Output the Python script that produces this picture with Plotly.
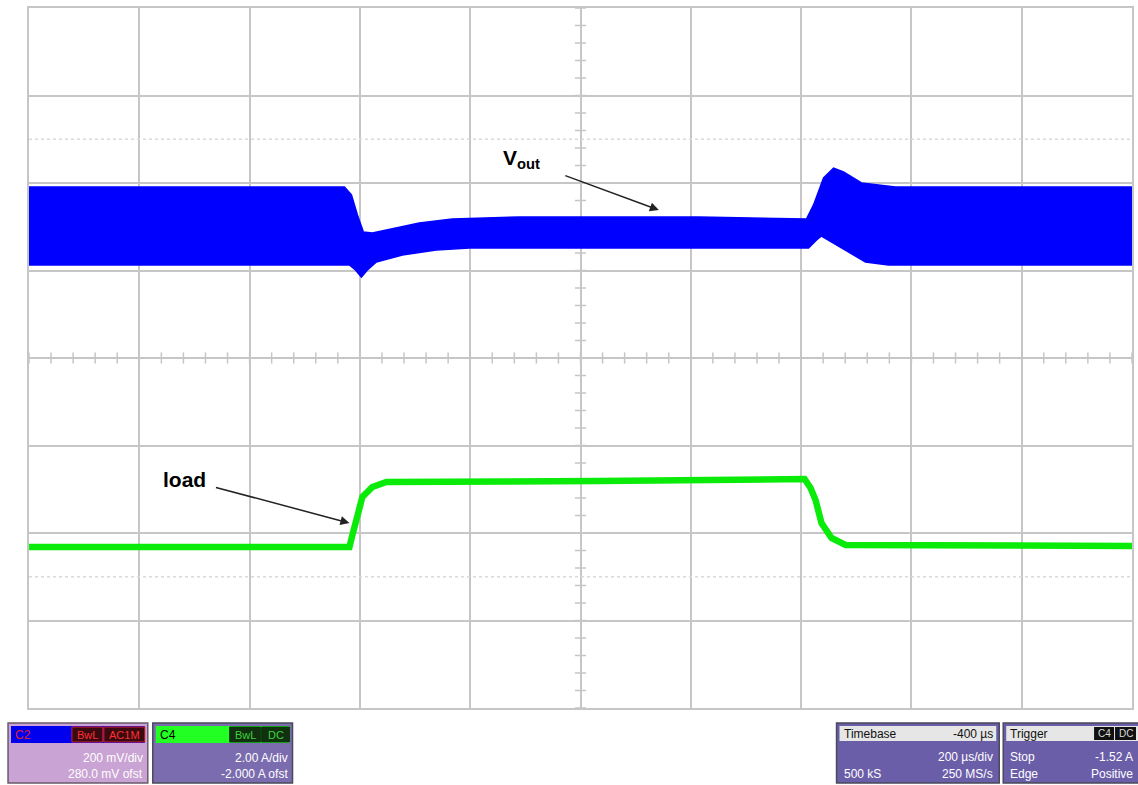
import plotly.graph_objects as go

# ---------------- data (time in µs, vertical position in screen divisions) ----------------
# Vout (C2) band: upper and lower envelope of the switching ripple
vout_upper_t = [-600, -28, -15.4, -4.5, 6.3, 22.6, 107.7, 167.4, 288.7, 614.5, 809.9, 822.6, 840.7, 858.8, 876.9, 909.5, 971, 1400]
vout_upper_d = [1.954, 1.954, 1.863, 1.634, 1.440, 1.429, 1.543, 1.589, 1.611, 1.611, 1.589, 1.749, 2.057, 2.171, 2.126, 2.000, 1.954, 1.954]
vout_lower_t = [-600, -19, -8, 2.7, 13.6, 29.9, 77, 138.4, 198.2, 614.5, 813.5, 828, 837, 849.8, 880.5, 916.7, 958.4, 1400]
vout_lower_d = [1.063, 1.063, 1.006, 0.926, 1.006, 1.097, 1.177, 1.234, 1.257, 1.257, 1.257, 1.349, 1.394, 1.349, 1.234, 1.097, 1.063, 1.063]

# Load current (C4)
load_t = [-600, -19, -13.6, -6.4, 4.5, 22.6, 48, 433.5, 806.3, 817.2, 826.2, 837, 855.2, 880.5, 1400]
load_d = [-2.160, -2.160, -2.023, -1.817, -1.589, -1.474, -1.417, -1.406, -1.383, -1.486, -1.623, -1.886, -2.057, -2.137, -2.149]

# Screen definition
T_LEFT, T_RIGHT, T_DIV = -600, 1400, 200
Y_DIVS = 4
DOTTED_LEVELS = [2.5, -2.5]

# Info panels
c2_lines = ["200 mV/div", "280.0 mV ofst"]
c4_lines = ["2.00 A/div", "-2.000 A ofst"]
tb_header = ("Timebase", "-400 µs")
tb_lines = [("", "200 µs/div"), ("500 kS", "250 MS/s")]
tr_header = "Trigger"
tr_lines = [("Stop", "-1.52 A"), ("Edge", "Positive")]

# ---------------- figure ----------------
W, H = 1138, 785
L, R, T, B = 29, 1134, 8, 708   # plot area in page pixels


def px(x):
    return (x - L) / (R - L)


def py(y):
    return (B - y) / (B - T)


fig = go.Figure()

GRID = "#c6c6c6"

# dotted reference levels
for lv in DOTTED_LEVELS:
    fig.add_trace(go.Scatter(x=[T_LEFT, T_RIGHT], y=[lv, lv], mode="lines",
                             line=dict(color="#dadada", width=1.5, dash="dot"),
                             hoverinfo="skip", showlegend=False))

# center cross minor ticks
n_x = int((T_RIGHT - T_LEFT) / (T_DIV / 5))
tick_x = [T_LEFT + k * T_DIV / 5 for k in range(n_x + 1)]
fig.add_trace(go.Scatter(x=tick_x, y=[0] * len(tick_x), mode="markers",
                         marker=dict(symbol="line-ns", size=8, line=dict(color=GRID, width=1.5)),
                         hoverinfo="skip", showlegend=False, cliponaxis=False))
xc = (T_LEFT + T_RIGHT) / 2
tick_y = [-Y_DIVS + k * 0.2 for k in range(int(2 * Y_DIVS / 0.2) + 1)]
fig.add_trace(go.Scatter(x=[xc] * len(tick_y), y=tick_y, mode="markers",
                         marker=dict(symbol="line-ew", size=8, line=dict(color=GRID, width=1.5)),
                         hoverinfo="skip", showlegend=False, cliponaxis=False))

# Vout band
band_x = vout_upper_t + vout_lower_t[::-1]
band_y = vout_upper_d + vout_lower_d[::-1]
fig.add_trace(go.Scatter(x=band_x, y=band_y, mode="lines", fill="toself",
                         fillcolor="#0000ff", line=dict(color="#0000ff", width=1.5),
                         hoverinfo="skip", showlegend=False))

# Load current
fig.add_trace(go.Scatter(x=load_t, y=load_d, mode="lines",
                         line=dict(color="#0aeb0a", width=6.5),
                         hoverinfo="skip", showlegend=False))

# trigger marker
fig.add_trace(go.Scatter(x=[0], y=[-Y_DIVS - 7 / 87.5], mode="markers",
                         marker=dict(symbol="triangle-up", size=9, color="#10d010"),
                         hoverinfo="skip", showlegend=False, cliponaxis=False))

fig.update_xaxes(range=[T_LEFT, T_RIGHT], dtick=T_DIV, tick0=T_LEFT, showgrid=True,
                 gridcolor=GRID, gridwidth=1.5, showticklabels=False, ticks="",
                 zeroline=False, showline=True, linecolor=GRID, linewidth=2, mirror=True)
fig.update_yaxes(range=[-Y_DIVS, Y_DIVS], dtick=1, showgrid=True, gridcolor=GRID,
                 gridwidth=1.5, showticklabels=False, ticks="", zeroline=False,
                 showline=True, linecolor=GRID, linewidth=2, mirror=True)

# annotations
ANN_FONT = dict(family="Arial, Liberation Sans, sans-serif", size=21, color="black")
fig.add_annotation(x=293, y=2.27, text="<b>V<sub>out</sub></b>", showarrow=False, font=ANN_FONT)
fig.add_annotation(x=542, y=1.691, ax=-95, ay=-35, text="", showarrow=True,
                   arrowhead=2, arrowsize=1.2, arrowwidth=1.5, arrowcolor="#222")
fig.add_annotation(x=-318, y=-1.394, text="<b>load</b>", showarrow=False, font=ANN_FONT)
fig.add_annotation(x=-19, y=-1.886, ax=-135, ay=-36, text="", showarrow=True,
                   arrowhead=2, arrowsize=1.2, arrowwidth=1.5, arrowcolor="#222")

# ---------------- info panels ----------------
shapes = []
PF = dict(family="Arial, Liberation Sans, sans-serif", size=12)


def rect(x0, y0, x1, y1, fill, line="#555", lw=1):
    shapes.append(dict(type="rect", xref="paper", yref="paper",
                       x0=px(x0), x1=px(x1), y0=py(y1), y1=py(y0),
                       fillcolor=fill, line=dict(color=line, width=lw), layer="above"))


def text(x, y, s, color="white", anchor="right", size=12):
    fig.add_annotation(xref="paper", yref="paper", x=px(x), y=py(y), text=s,
                       showarrow=False, xanchor=anchor, yanchor="middle",
                       font=dict(family=PF["family"], size=size, color=color))


# C2 panel
rect(8, 723, 148, 783, "#c9a3d3", "#6a5a6a", 1.5)
rect(11, 726, 145, 743, "#0000ee", "#0000ee", 0)
rect(72, 727, 103, 742, "#3a0a10", "#d02030", 1)
rect(104, 727, 145, 742, "#3a0a10", "#d02030", 1)
text(13, 734.5, "C2", color="#e02020", anchor="left")
text(87.5, 734.5, "BwL", color="#ff3030", anchor="center", size=11)
text(124.5, 734.5, "AC1M", color="#ff3030", anchor="center", size=11)
text(145, 758, c2_lines[0])
text(145, 774, c2_lines[1])

# C4 panel
rect(153, 723, 293, 783, "#7a6cae", "#4a4a5a", 1.5)
rect(156, 726, 290, 743, "#22ff22", "#22ff22", 0)
rect(230, 727, 261, 742, "#103010", "#0a3a0a", 1)
rect(262, 727, 290, 742, "#103010", "#0a3a0a", 1)
text(158, 734.5, "C4", color="#000000", anchor="left")
text(245.5, 734.5, "BwL", color="#40d040", anchor="center", size=11)
text(276, 734.5, "DC", color="#40d040", anchor="center", size=11)
text(290, 758, c4_lines[0])
text(290, 774, c4_lines[1])

# Timebase panel
rect(838, 723, 1001, 783, "#6b5ea8", "#4a4a5a", 1.5)
rect(841, 726, 998, 741, "#e6e6e6", "#e6e6e6", 0)
text(843, 733.5, tb_header[0], color="#111", anchor="left")
text(997, 733.5, tb_header[1], color="#111", anchor="right")
text(843, 757, tb_lines[0][0], anchor="left")
text(997, 757, tb_lines[0][1])
text(843, 774, tb_lines[1][0], anchor="left")
text(997, 774, tb_lines[1][1])

# Trigger panel
rect(1005, 723, 1145, 783, "#6b5ea8", "#4a4a5a", 1.5)
rect(1008, 726, 1145, 741, "#e6e6e6", "#e6e6e6", 0)
rect(1096, 727, 1116, 740, "#111111", "#111111", 0)
rect(1117, 727, 1138, 740, "#111111", "#111111", 0)
text(1010, 733.5, tr_header, color="#111", anchor="left")
text(1106, 733.5, "C4", color="#dddddd", anchor="center", size=10)
text(1127.5, 733.5, "DC", color="#dddddd", anchor="center", size=10)
text(1010, 757, tr_lines[0][0], anchor="left")
text(1137, 757, tr_lines[0][1])
text(1010, 774, tr_lines[1][0], anchor="left")
text(1137, 774, tr_lines[1][1])

fig.update_layout(
    width=W, height=H, shapes=shapes,
    margin=dict(l=L, r=W - R, t=T, b=H - B),
    paper_bgcolor="white", plot_bgcolor="white",
    showlegend=False,
)

fig.write_html("out.html", config={"displayModeBar": False},
               post_script="document.body.style.margin='0';document.body.style.overflow='hidden';")
